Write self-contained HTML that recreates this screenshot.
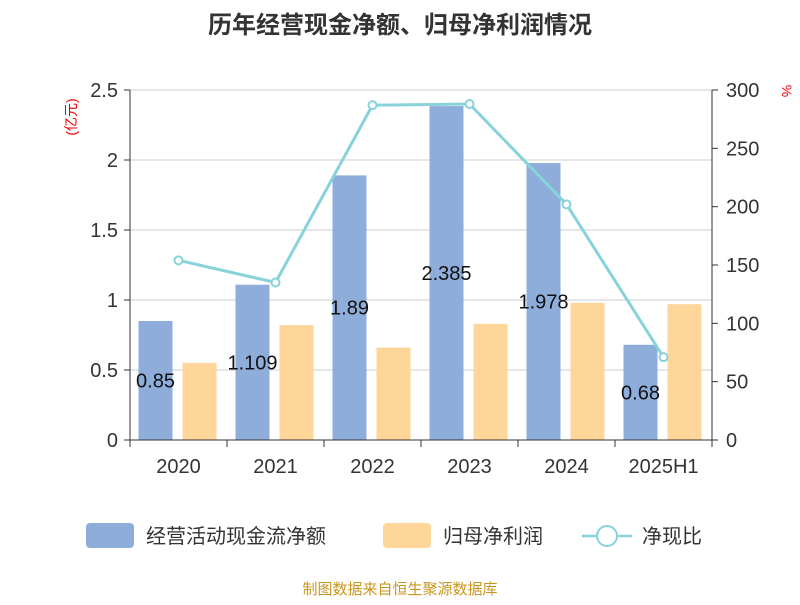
<!DOCTYPE html>
<html><head><meta charset="utf-8"><style>
body{margin:0;background:#fff;}
svg text{font-family:"Liberation Sans","Noto Sans CJK SC",sans-serif;}
</style></head><body>
<svg width="800" height="600" xmlns="http://www.w3.org/2000/svg">
<text x="400" y="33" text-anchor="middle" font-size="24" font-weight="bold" fill="#333">历年经营现金净额、归母净利润情况</text>
<text transform="translate(76,117) rotate(-90)" text-anchor="middle" font-size="14" fill="#e00">(亿元)</text>
<text transform="translate(782,91) rotate(90)" text-anchor="middle" font-size="14" fill="#e00">%</text>
<g id="grid"></g><g id="bars"></g><g id="line"></g><g id="axes"></g>
<g>
<rect x="86" y="523" width="48" height="25" rx="4" fill="#8eadda"/>
<text x="146" y="543" font-size="20" fill="#333">经营活动现金流净额</text>
<rect x="383" y="523" width="48" height="25" rx="4" fill="#ffd699"/>
<text x="443" y="543" font-size="20" fill="#333">归母净利润</text>
<line x1="582" y1="536" x2="632" y2="536" stroke="#88d3da" stroke-width="2.5"/>
<circle cx="607" cy="536" r="10" fill="#fff" stroke="#88d3da" stroke-width="2"/>
<text x="642" y="543" font-size="20" fill="#333">净现比</text>
</g>
<text x="400" y="594" text-anchor="middle" font-size="15" fill="#c8961e">制图数据来自恒生聚源数据库</text>
</svg>
<script>
const categories=["2020","2021","2022","2023","2024","2025H1"];
const cashFlow=[0.85,1.109,1.89,2.385,1.978,0.68];
const netProfit=[0.55,0.82,0.66,0.83,0.98,0.97];
const ratio=[154,135,287,288,202,71];
const leftTicks=["0","0.5","1","1.5","2","2.5"];
const rightTicks=["0","50","100","150","200","250","300"];
const NS="http://www.w3.org/2000/svg";
const X0=130,X1=712,Y0=440,Y1=90;
const band=(X1-X0)/categories.length;
const yL=v=>Y0-(v/2.5)*(Y0-Y1);
const yR=v=>Y0-(v/300)*(Y0-Y1);
function mk(p,tag,attrs,txt){const e=document.createElementNS(NS,tag);for(const k in attrs)e.setAttribute(k,attrs[k]);if(txt!==undefined)e.textContent=txt;p.appendChild(e);return e;}
const grid=document.getElementById('grid'),bars=document.getElementById('bars'),line=document.getElementById('line'),axes=document.getElementById('axes');
leftTicks.forEach(t=>{const y=yL(+t);
 if(+t>0){const g=mk(grid,'line',{x1:X0,x2:X1,y1:y,y2:y,stroke:'#ccc','stroke-width':1});}
 mk(axes,'line',{x1:X0-6,x2:X0,y1:y,y2:y,stroke:'#333'});
 const l=mk(axes,'text',{x:X0-12,y:y+7,'text-anchor':'end','font-size':20,fill:'#333'},t);
 });
rightTicks.forEach(t=>{const y=yR(+t);
 mk(axes,'line',{x1:X1,x2:X1+6,y1:y,y2:y,stroke:'#333'});
 const l=mk(axes,'text',{x:X1+14,y:y+7,'font-size':20,fill:'#333'},t);
 });
mk(axes,'line',{x1:X0,x2:X0,y1:Y1,y2:Y0,stroke:'#333'});
mk(axes,'line',{x1:X1,x2:X1,y1:Y1,y2:Y0,stroke:'#333'});
mk(axes,'line',{x1:X0,x2:X1,y1:Y0,y2:Y0,stroke:'#333'});
for(let i=0;i<=categories.length;i++){const x=X0+i*band;mk(axes,'line',{x1:x,x2:x,y1:Y0,y2:Y0+7,stroke:'#333'});}
const pts=[];
categories.forEach((c,i)=>{const cx=X0+band*i+band/2;
 const b=mk(bars,'rect',{x:cx-40,y:yL(cashFlow[i]),width:34,height:Y0-yL(cashFlow[i]),fill:'#8eadda'});
 
 const o=mk(bars,'rect',{x:cx+4,y:yL(netProfit[i]),width:34,height:Y0-yL(netProfit[i]),fill:'#ffd699'});
 
 const v=mk(bars,'text',{x:cx-23,y:(yL(cashFlow[i])+Y0)/2+7,'text-anchor':'middle','font-size':20,fill:'#111'},String(cashFlow[i]));
 
 const l=mk(axes,'text',{x:cx,y:473,'text-anchor':'middle','font-size':20,fill:'#333'},c);
 
 pts.push([cx,yR(ratio[i])]);});
const pl=mk(line,'polyline',{points:pts.map(p=>p.join(',')).join(' '),fill:'none',stroke:'#88d3da','stroke-width':3});

pts.forEach((p,i)=>{const c=mk(line,'circle',{cx:p[0],cy:p[1],r:4,fill:'#fff',stroke:'#88d3da','stroke-width':2});
 });
</script>
</body></html>
